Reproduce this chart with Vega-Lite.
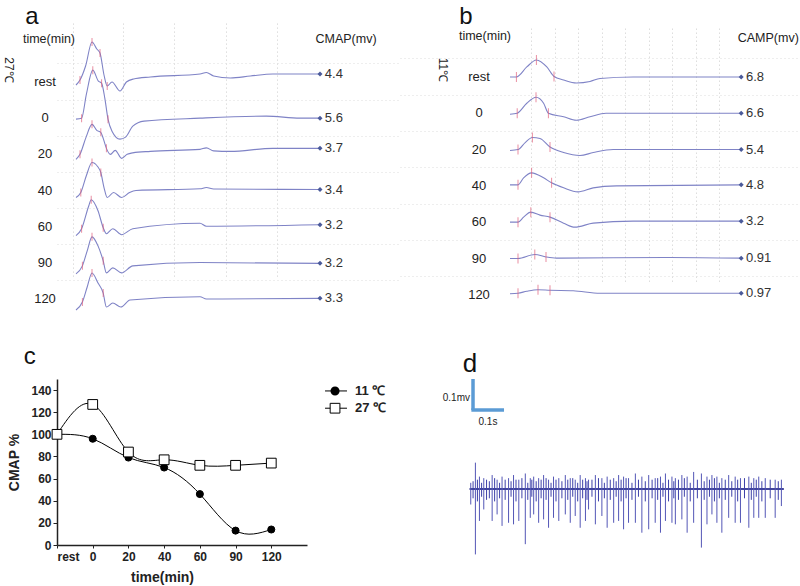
{
  "$schema": "https://vega.github.io/schema/vega-lite/v6.json",
  "padding": {"left": 3, "top": 0, "right": 0, "bottom": 0},
  "config": {
    "view": {"stroke": null},
    "font": "Liberation Sans",
    "text": {"font": "Liberation Sans"},
    "axis": {"labelFont": "Liberation Sans", "titleFont": "Liberation Sans", "labelOverlap": false}
  },
  "datasets": {
    "rows": [
      {"r": "rest"}, {"r": "0"}, {"r": "20"}, {"r": "40"}, {"r": "60"}, {"r": "90"}, {"r": "120"}
    ],
    "endA": [
      {"r": "rest", "val": "4.4", "e": 0.8},
      {"r": "0", "val": "5.6", "e": 0},
      {"r": "20", "val": "3.7", "e": 0.6},
      {"r": "40", "val": "3.4", "e": 0.1},
      {"r": "60", "val": "3.2", "e": 0.2},
      {"r": "90", "val": "3.2", "e": -0.05},
      {"r": "120", "val": "3.3", "e": 0.07}
    ],
    "endB": [
      {"r": "rest", "val": "6.8", "e": 0},
      {"r": "0", "val": "6.6", "e": 0},
      {"r": "20", "val": "5.4", "e": 0},
      {"r": "40", "val": "4.8", "e": 0.1},
      {"r": "60", "val": "3.2", "e": 0.1},
      {"r": "90", "val": "0.91", "e": 0.03},
      {"r": "120", "val": "0.97", "e": 0.15}
    ],
    "traceA": [
      {"r": "rest", "t": 0, "v": -0.3}, {"r": "rest", "t": 0.5, "v": 0.2, "m": 1}, {"r": "rest", "t": 1.2, "v": 1.6}, {"r": "rest", "t": 2.0, "v": 4.0, "m": 1}, {"r": "rest", "t": 2.6, "v": 3.3}, {"r": "rest", "t": 3.0, "v": 2.9, "m": 1}, {"r": "rest", "t": 3.5, "v": 0.7}, {"r": "rest", "t": 3.9, "v": -0.4, "m": 1}, {"r": "rest", "t": 4.5, "v": 0}, {"r": "rest", "t": 5.5, "v": -0.9}, {"r": "rest", "t": 6.3, "v": 0}, {"r": "rest", "t": 7.2, "v": 0.3}, {"r": "rest", "t": 9.3, "v": 0.5}, {"r": "rest", "t": 15.5, "v": 0.8}, {"r": "rest", "t": 16.3, "v": 0.95}, {"r": "rest", "t": 17.2, "v": 0.6}, {"r": "rest", "t": 19.3, "v": 0.4}, {"r": "rest", "t": 21.8, "v": 0.6}, {"r": "rest", "t": 24.6, "v": 0.8}, {"r": "rest", "t": 30.5, "v": 0.8},
      {"r": "0", "t": 0, "v": -0.1}, {"r": "0", "t": 0.7, "v": 0, "m": 1}, {"r": "0", "t": 1.3, "v": 2.4}, {"r": "0", "t": 2.1, "v": 4.8, "m": 1}, {"r": "0", "t": 2.8, "v": 3.7}, {"r": "0", "t": 3.2, "v": 3.5, "m": 1}, {"r": "0", "t": 3.6, "v": 2.0}, {"r": "0", "t": 4.0, "v": -0.1, "m": 1}, {"r": "0", "t": 4.5, "v": -1.3}, {"r": "0", "t": 5.5, "v": -2.1}, {"r": "0", "t": 6.2, "v": -1.9}, {"r": "0", "t": 7.1, "v": -0.8}, {"r": "0", "t": 8.5, "v": -0.3}, {"r": "0", "t": 15.5, "v": 0}, {"r": "0", "t": 23.8, "v": 0.2}, {"r": "0", "t": 28, "v": 0}, {"r": "0", "t": 30.5, "v": 0},
      {"r": "20", "t": 0, "v": -0.5}, {"r": "20", "t": 0.5, "v": 0, "m": 1}, {"r": "20", "t": 1.25, "v": 1.7}, {"r": "20", "t": 2.0, "v": 3.0, "m": 1}, {"r": "20", "t": 2.6, "v": 2.4}, {"r": "20", "t": 3.1, "v": 2.2, "m": 1}, {"r": "20", "t": 3.4, "v": 1.6}, {"r": "20", "t": 3.8, "v": 0.6, "m": 1}, {"r": "20", "t": 4.3, "v": 0}, {"r": "20", "t": 4.9, "v": 0.4}, {"r": "20", "t": 5.7, "v": -0.4}, {"r": "20", "t": 6.4, "v": 0}, {"r": "20", "t": 7.1, "v": 0.15}, {"r": "20", "t": 9.3, "v": 0.3}, {"r": "20", "t": 15.5, "v": 0.5}, {"r": "20", "t": 16.3, "v": 0.65}, {"r": "20", "t": 17.2, "v": 0.35}, {"r": "20", "t": 19.3, "v": 0.3}, {"r": "20", "t": 24.6, "v": 0.6}, {"r": "20", "t": 30.5, "v": 0.6},
      {"r": "40", "t": 0, "v": -0.7}, {"r": "40", "t": 0.6, "v": -0.2, "m": 1}, {"r": "40", "t": 1.3, "v": 1.5}, {"r": "40", "t": 2.0, "v": 2.8, "m": 1}, {"r": "40", "t": 2.7, "v": 2.4}, {"r": "40", "t": 3.1, "v": 1.8, "m": 1}, {"r": "40", "t": 3.5, "v": 0.3}, {"r": "40", "t": 3.9, "v": -0.7}, {"r": "40", "t": 4.7, "v": -0.2}, {"r": "40", "t": 5.7, "v": -0.7}, {"r": "40", "t": 6.7, "v": -0.2}, {"r": "40", "t": 7.5, "v": 0}, {"r": "40", "t": 15.5, "v": 0.17}, {"r": "40", "t": 16.3, "v": 0.3}, {"r": "40", "t": 17.2, "v": 0.15}, {"r": "40", "t": 30.5, "v": 0.1},
      {"r": "60", "t": 0, "v": -0.9}, {"r": "60", "t": 0.7, "v": -0.2, "m": 1}, {"r": "60", "t": 1.6, "v": 2.1}, {"r": "60", "t": 1.9, "v": 2.7, "m": 1}, {"r": "60", "t": 2.75, "v": 1.6}, {"r": "60", "t": 3.4, "v": -0.1, "m": 1}, {"r": "60", "t": 3.8, "v": -0.7}, {"r": "60", "t": 4.6, "v": -0.2}, {"r": "60", "t": 5.7, "v": -0.8}, {"r": "60", "t": 7.1, "v": -0.2}, {"r": "60", "t": 15.5, "v": 0.35}, {"r": "60", "t": 16.3, "v": 0.05}, {"r": "60", "t": 30.5, "v": 0.2},
      {"r": "90", "t": 0, "v": -1.1}, {"r": "90", "t": 0.8, "v": -0.3, "m": 1}, {"r": "90", "t": 1.4, "v": 1.2}, {"r": "90", "t": 2.0, "v": 2.6, "m": 1}, {"r": "90", "t": 2.75, "v": 1.7}, {"r": "90", "t": 3.4, "v": 0.2, "m": 1}, {"r": "90", "t": 3.8, "v": -1.0}, {"r": "90", "t": 4.6, "v": -0.5}, {"r": "90", "t": 5.7, "v": -1.0}, {"r": "90", "t": 7.1, "v": -0.3}, {"r": "90", "t": 15.5, "v": 0.03}, {"r": "90", "t": 30.5, "v": -0.05},
      {"r": "120", "t": 0, "v": -1.1}, {"r": "120", "t": 0.8, "v": -0.3, "m": 1}, {"r": "120", "t": 1.4, "v": 1.2}, {"r": "120", "t": 2.0, "v": 2.6, "m": 1}, {"r": "120", "t": 2.75, "v": 1.6}, {"r": "120", "t": 3.4, "v": 0.6, "m": 1}, {"r": "120", "t": 3.8, "v": -0.8}, {"r": "120", "t": 4.6, "v": -0.4}, {"r": "120", "t": 5.6, "v": -0.8}, {"r": "120", "t": 6.75, "v": -0.1}, {"r": "120", "t": 15.5, "v": 0.23}, {"r": "120", "t": 16.3, "v": 0.0}, {"r": "120", "t": 30.5, "v": 0.07}
    ],
    "traceB": [
      {"r": "rest", "t": 0, "v": 0}, {"r": "rest", "t": 0.8, "v": 0, "m": 1}, {"r": "rest", "t": 2.1, "v": 1.0}, {"r": "rest", "t": 3.3, "v": 1.7, "m": 1}, {"r": "rest", "t": 4.6, "v": 1.0}, {"r": "rest", "t": 5.5, "v": 0.05, "m": 1}, {"r": "rest", "t": 6.7, "v": -0.3}, {"r": "rest", "t": 8.3, "v": -0.6}, {"r": "rest", "t": 10, "v": -0.45}, {"r": "rest", "t": 11.25, "v": -0.15}, {"r": "rest", "t": 15.4, "v": 0}, {"r": "rest", "t": 28.9, "v": 0},
      {"r": "0", "t": 0, "v": -0.1}, {"r": "0", "t": 0.9, "v": 0, "m": 1}, {"r": "0", "t": 2.1, "v": 1.0}, {"r": "0", "t": 3.25, "v": 1.6, "m": 1}, {"r": "0", "t": 4.2, "v": 1.0}, {"r": "0", "t": 4.8, "v": 0, "m": 1}, {"r": "0", "t": 6.7, "v": -0.35}, {"r": "0", "t": 8.3, "v": -0.7}, {"r": "0", "t": 10, "v": -0.35}, {"r": "0", "t": 12, "v": 0}, {"r": "0", "t": 28.9, "v": 0},
      {"r": "20", "t": 0, "v": -0.1}, {"r": "20", "t": 1.0, "v": 0, "m": 1}, {"r": "20", "t": 1.9, "v": 0.7}, {"r": "20", "t": 2.8, "v": 1.2, "m": 1}, {"r": "20", "t": 3.75, "v": 1.1}, {"r": "20", "t": 5.0, "v": 0.25, "m": 1}, {"r": "20", "t": 6.7, "v": -0.3}, {"r": "20", "t": 8.75, "v": -0.6}, {"r": "20", "t": 10.4, "v": -0.3}, {"r": "20", "t": 12.9, "v": 0}, {"r": "20", "t": 28.9, "v": 0},
      {"r": "40", "t": 0, "v": 0.1}, {"r": "40", "t": 1.0, "v": 0.1, "m": 1}, {"r": "40", "t": 1.7, "v": 0.8}, {"r": "40", "t": 2.7, "v": 1.3, "m": 1}, {"r": "40", "t": 4.2, "v": 0.8}, {"r": "40", "t": 5.2, "v": 0.3, "m": 1}, {"r": "40", "t": 6.7, "v": -0.2}, {"r": "40", "t": 8.5, "v": -0.6}, {"r": "40", "t": 10.4, "v": -0.2}, {"r": "40", "t": 13.3, "v": 0}, {"r": "40", "t": 28.9, "v": 0.1},
      {"r": "60", "t": 0, "v": 0}, {"r": "60", "t": 1.0, "v": 0, "m": 1}, {"r": "60", "t": 1.7, "v": 0.5}, {"r": "60", "t": 2.6, "v": 1.0, "m": 1}, {"r": "60", "t": 3.75, "v": 0.7}, {"r": "60", "t": 5.0, "v": 0.5, "m": 1}, {"r": "60", "t": 6.7, "v": -0.1}, {"r": "60", "t": 8.1, "v": -0.5}, {"r": "60", "t": 10.4, "v": -0.1}, {"r": "60", "t": 15.4, "v": 0.1}, {"r": "60", "t": 28.9, "v": 0.1},
      {"r": "90", "t": 0, "v": 0}, {"r": "90", "t": 1.0, "v": 0, "m": 1}, {"r": "90", "t": 3.1, "v": 0.4, "m": 1}, {"r": "90", "t": 4.5, "v": 0.15, "m": 1}, {"r": "90", "t": 5.8, "v": 0.03}, {"r": "90", "t": 20, "v": 0.1}, {"r": "90", "t": 28.9, "v": 0.03},
      {"r": "120", "t": 0, "v": 0.1}, {"r": "120", "t": 1.0, "v": 0.15, "m": 1}, {"r": "120", "t": 2.1, "v": 0.35}, {"r": "120", "t": 3.5, "v": 0.5, "m": 1}, {"r": "120", "t": 5.0, "v": 0.45, "m": 1}, {"r": "120", "t": 7.9, "v": 0.4}, {"r": "120", "t": 11.25, "v": 0.15}, {"r": "120", "t": 28.9, "v": 0.15}
    ],
    "cmap": [
      {"idx": 0, "series": "11 ℃", "pct": 100}, {"idx": 1, "series": "11 ℃", "pct": 96}, {"idx": 2, "series": "11 ℃", "pct": 79}, {"idx": 3, "series": "11 ℃", "pct": 70}, {"idx": 4, "series": "11 ℃", "pct": 46}, {"idx": 5, "series": "11 ℃", "pct": 13}, {"idx": 6, "series": "11 ℃", "pct": 14},
      {"idx": 0, "series": "27 ℃", "pct": 100}, {"idx": 1, "series": "27 ℃", "pct": 127}, {"idx": 2, "series": "27 ℃", "pct": 84}, {"idx": 3, "series": "27 ℃", "pct": 77}, {"idx": 4, "series": "27 ℃", "pct": 72}, {"idx": 5, "series": "27 ℃", "pct": 72}, {"idx": 6, "series": "27 ℃", "pct": 74}
    ],
    "emg": [
      {"t": 0.125, "lo": -0.05, "hi": 0.02}, {"t": 0.140, "lo": -0.211, "hi": 0.085}, {"t": 0.153, "lo": -0.103, "hi": 0.04}, {"t": 0.167, "lo": -0.066, "hi": 0.035}, {"t": 0.194, "lo": -0.103, "hi": 0.045}, {"t": 0.210, "lo": -0.082, "hi": 0.03}, {"t": 0.226, "lo": -0.119, "hi": 0.04}, {"t": 0.247, "lo": -0.109, "hi": 0.035}, {"t": 0.263, "lo": -0.114, "hi": 0.045}, {"t": 0.280, "lo": -0.103, "hi": 0.03}, {"t": 0.301, "lo": -0.178, "hi": 0.05}, {"t": 0.317, "lo": -0.093, "hi": 0.035}, {"t": 0.328, "lo": -0.082, "hi": 0.04}, {"t": 0.344, "lo": -0.109, "hi": 0.035}, {"t": 0.360, "lo": -0.098, "hi": 0.045}, {"t": 0.376, "lo": -0.125, "hi": 0.03}, {"t": 0.392, "lo": -0.093, "hi": 0.04}, {"t": 0.409, "lo": -0.103, "hi": 0.035}, {"t": 0.430, "lo": -0.082, "hi": 0.045}, {"t": 0.446, "lo": -0.109, "hi": 0.035}, {"t": 0.462, "lo": -0.087, "hi": 0.03}, {"t": 0.478, "lo": -0.125, "hi": 0.045}, {"t": 0.495, "lo": -0.103, "hi": 0.035}, {"t": 0.505, "lo": -0.066, "hi": 0.03}, {"t": 0.527, "lo": -0.114, "hi": 0.045}, {"t": 0.548, "lo": -0.087, "hi": 0.035}, {"t": 0.565, "lo": -0.125, "hi": 0.04}, {"t": 0.586, "lo": -0.109, "hi": 0.035}, {"t": 0.602, "lo": -0.103, "hi": 0.045}, {"t": 0.618, "lo": -0.130, "hi": 0.04}, {"t": 0.634, "lo": -0.109, "hi": 0.035}, {"t": 0.656, "lo": -0.109, "hi": 0.05}, {"t": 0.677, "lo": -0.141, "hi": 0.04}, {"t": 0.699, "lo": -0.130, "hi": 0.045}, {"t": 0.720, "lo": -0.109, "hi": 0.035}, {"t": 0.737, "lo": -0.141, "hi": 0.04}, {"t": 0.753, "lo": -0.103, "hi": 0.05}, {"t": 0.774, "lo": -0.109, "hi": 0.04}, {"t": 0.785, "lo": -0.114, "hi": 0.035}, {"t": 0.806, "lo": -0.098, "hi": 0.045}, {"t": 0.823, "lo": -0.141, "hi": 0.04}, {"t": 0.844, "lo": -0.109, "hi": 0.055}, {"t": 0.869, "lo": -0.189, "hi": 0.05}, {"t": 0.887, "lo": -0.114, "hi": 0.04}, {"t": 0.903, "lo": -0.082, "hi": 0.045}, {"t": 0.919, "lo": -0.109, "hi": 0.04}, {"t": 0.935, "lo": -0.141, "hi": 0.035}, {"t": 0.957, "lo": -0.093, "hi": 0.045}, {"t": 0.978, "lo": -0.109, "hi": 0.04}, {"t": 0.995, "lo": -0.109, "hi": 0.035}, {"t": 1.022, "lo": -0.125, "hi": 0.04}, {"t": 1.038, "lo": -0.093, "hi": 0.035}, {"t": 1.054, "lo": -0.093, "hi": 0.04}, {"t": 1.075, "lo": -0.093, "hi": 0.035}, {"t": 1.107, "lo": -0.093, "hi": 0.03}, {"t": 1.127, "lo": -0.055, "hi": 0.03}
    ],
    "emgNoise": [
      {"t": 0.1325, "lo": -0.03, "hi": 0.025}, {"t": 0.1465, "lo": -0.04, "hi": 0.03}, {"t": 0.160, "lo": -0.025, "hi": 0.02}, {"t": 0.176, "lo": -0.035, "hi": 0.03}, {"t": 0.185, "lo": -0.03, "hi": 0.025}, {"t": 0.202, "lo": -0.04, "hi": 0.035}, {"t": 0.218, "lo": -0.03, "hi": 0.02}, {"t": 0.236, "lo": -0.035, "hi": 0.03}, {"t": 0.255, "lo": -0.025, "hi": 0.025}, {"t": 0.271, "lo": -0.04, "hi": 0.03}, {"t": 0.290, "lo": -0.03, "hi": 0.035}, {"t": 0.309, "lo": -0.035, "hi": 0.02}, {"t": 0.322, "lo": -0.025, "hi": 0.03}, {"t": 0.336, "lo": -0.04, "hi": 0.025}, {"t": 0.352, "lo": -0.03, "hi": 0.03}, {"t": 0.368, "lo": -0.035, "hi": 0.035}, {"t": 0.384, "lo": -0.025, "hi": 0.02}, {"t": 0.400, "lo": -0.04, "hi": 0.03}, {"t": 0.419, "lo": -0.03, "hi": 0.025}, {"t": 0.438, "lo": -0.035, "hi": 0.03}, {"t": 0.454, "lo": -0.025, "hi": 0.035}, {"t": 0.470, "lo": -0.04, "hi": 0.02}, {"t": 0.486, "lo": -0.03, "hi": 0.03}, {"t": 0.500, "lo": -0.035, "hi": 0.025}, {"t": 0.516, "lo": -0.025, "hi": 0.03}, {"t": 0.537, "lo": -0.04, "hi": 0.035}, {"t": 0.556, "lo": -0.03, "hi": 0.02}, {"t": 0.575, "lo": -0.035, "hi": 0.03}, {"t": 0.594, "lo": -0.025, "hi": 0.025}, {"t": 0.610, "lo": -0.04, "hi": 0.03}, {"t": 0.626, "lo": -0.03, "hi": 0.035}, {"t": 0.645, "lo": -0.035, "hi": 0.02}, {"t": 0.666, "lo": -0.025, "hi": 0.03}, {"t": 0.688, "lo": -0.04, "hi": 0.025}, {"t": 0.710, "lo": -0.03, "hi": 0.03}, {"t": 0.728, "lo": -0.035, "hi": 0.035}, {"t": 0.745, "lo": -0.025, "hi": 0.02}, {"t": 0.763, "lo": -0.04, "hi": 0.03}, {"t": 0.780, "lo": -0.03, "hi": 0.025}, {"t": 0.795, "lo": -0.035, "hi": 0.03}, {"t": 0.814, "lo": -0.025, "hi": 0.035}, {"t": 0.833, "lo": -0.04, "hi": 0.02}, {"t": 0.856, "lo": -0.03, "hi": 0.03}, {"t": 0.878, "lo": -0.035, "hi": 0.025}, {"t": 0.895, "lo": -0.025, "hi": 0.03}, {"t": 0.911, "lo": -0.04, "hi": 0.035}, {"t": 0.927, "lo": -0.03, "hi": 0.02}, {"t": 0.946, "lo": -0.035, "hi": 0.03}, {"t": 0.967, "lo": -0.025, "hi": 0.025}, {"t": 0.986, "lo": -0.04, "hi": 0.03}, {"t": 1.008, "lo": -0.03, "hi": 0.035}, {"t": 1.030, "lo": -0.035, "hi": 0.02}, {"t": 1.046, "lo": -0.025, "hi": 0.03}, {"t": 1.064, "lo": -0.04, "hi": 0.025}, {"t": 1.091, "lo": -0.03, "hi": 0.03}, {"t": 1.117, "lo": -0.035, "hi": 0.025}
    ]
  },
  "concat": [
    {
      "spacing": 0,
      "hconcat": [
        {
          "width": 343,
          "height": 340,
          "layer": [
            {
              "data": {"name": "traceA"},
              "mark": {"type": "line", "stroke": "#7f83c6", "strokeWidth": 1.1, "interpolate": "monotone"},
              "encoding": {
                "x": {"field": "t", "type": "quantitative", "scale": {"domain": [-2.375, 40.5], "nice": false, "zero": false},
                  "axis": {"values": [-0.4, 2.8, 5.9, 9.2, 12.2, 15.5, 18.8, 21.8, 25.1, 28.0], "labels": false, "ticks": false, "domain": false, "title": null, "grid": true, "gridDash": [1, 3], "gridColor": "#cccccc"}},
                "y": {"field": "r", "type": "nominal", "scale": {"domain": ["rest", "0", "20", "40", "60", "90", "120"], "range": [63.9, 317.1], "paddingInner": 0, "paddingOuter": 0},
                  "axis": {"labels": false, "ticks": false, "domain": false, "title": null, "grid": true, "bandPosition": 0, "gridDash": [1, 3], "gridColor": "#dddddd"}},
                "yOffset": {"field": "v", "type": "quantitative", "scale": {"domain": [-3, 5], "range": [48.1, -31.9]}},
                "detail": {"field": "r", "type": "nominal"},
                "order": {"field": "t", "type": "quantitative"}
              }
            },
            {
              "data": {"name": "traceA"},
              "transform": [{"filter": "datum.m == 1"}],
              "mark": {"type": "tick", "color": "#e0607a", "size": 8, "thickness": 1},
              "encoding": {
                "x": {"field": "t", "type": "quantitative"},
                "y": {"field": "r", "type": "nominal"},
                "yOffset": {"field": "v", "type": "quantitative"}
              }
            },
            {
              "data": {"name": "endA"},
              "mark": {"type": "point", "shape": "diamond", "filled": true, "color": "#4a5a9a", "size": 25, "opacity": 1},
              "encoding": {
                "x": {"datum": 30.5, "type": "quantitative"},
                "y": {"field": "r", "type": "nominal"},
                "yOffset": {"field": "e", "type": "quantitative"}
              }
            },
            {
              "data": {"name": "endA"},
              "mark": {"type": "text", "align": "left", "baseline": "middle", "fontSize": 13, "color": "#333333"},
              "encoding": {
                "x": {"datum": 31.1, "type": "quantitative"},
                "y": {"field": "r", "type": "nominal"},
                "yOffset": {"field": "e", "type": "quantitative"},
                "text": {"field": "val"}
              }
            },
            {
              "data": {"name": "rows"},
              "mark": {"type": "text", "align": "center", "baseline": "middle", "fontSize": 13, "color": "#222222"},
              "encoding": {
                "x": {"datum": -3.875, "type": "quantitative"},
                "y": {"field": "r", "type": "nominal"},
                "text": {"field": "r"}
              }
            },
            {
              "data": {"values": [{}]},
              "mark": {"type": "text", "text": "a", "fontSize": 24, "align": "center", "baseline": "middle", "color": "#111111"},
              "encoding": {"x": {"datum": -5.5, "type": "quantitative"}, "y": {"datum": "rest", "type": "nominal"}, "yOffset": {"datum": 6.5, "type": "quantitative"}}
            },
            {
              "data": {"values": [{}]},
              "mark": {"type": "text", "text": "time(min)", "fontSize": 12.5, "align": "center", "baseline": "middle", "color": "#222222"},
              "encoding": {"x": {"datum": -3.375, "type": "quantitative"}, "y": {"datum": "rest", "type": "nominal"}, "yOffset": {"datum": 4.3, "type": "quantitative"}}
            },
            {
              "data": {"values": [{}]},
              "mark": {"type": "text", "text": "CMAP(mv)", "fontSize": 12.5, "align": "center", "baseline": "middle", "color": "#222222"},
              "encoding": {"x": {"datum": 33.75, "type": "quantitative"}, "y": {"datum": "rest", "type": "nominal"}, "yOffset": {"datum": 4.3, "type": "quantitative"}}
            },
            {
              "data": {"values": [{}]},
              "mark": {"type": "text", "text": "27℃", "fontSize": 12, "angle": 90, "align": "center", "baseline": "middle", "color": "#222222"},
              "encoding": {"x": {"datum": -8.375, "type": "quantitative"}, "y": {"datum": "rest", "type": "nominal"}, "yOffset": {"datum": 1.2, "type": "quantitative"}}
            }
          ]
        },
        {
          "width": 400,
          "height": 340,
          "layer": [
            {
              "data": {"name": "traceB"},
              "mark": {"type": "line", "stroke": "#7f83c6", "strokeWidth": 1.1, "interpolate": "monotone"},
              "encoding": {
                "x": {"field": "t", "type": "quantitative", "scale": {"domain": [-13.75, 36.25], "nice": false, "zero": false},
                  "axis": {"values": [2.6, 5.6, 8.5, 11.5, 14.4, 17.4, 20.25, 23.25, 26.1], "labels": false, "ticks": false, "domain": false, "title": null, "grid": true, "gridDash": [1, 3], "gridColor": "#cccccc"}},
                "y": {"field": "r", "type": "nominal", "scale": {"domain": ["rest", "0", "20", "40", "60", "90", "120"], "range": [58.85, 312.95], "paddingInner": 0, "paddingOuter": 0},
                  "axis": {"labels": false, "ticks": false, "domain": false, "title": null, "grid": true, "bandPosition": 0, "gridDash": [1, 3], "gridColor": "#dddddd"}},
                "yOffset": {"field": "v", "type": "quantitative", "scale": {"domain": [-3, 5], "range": [48.15, -31.85]}},
                "detail": {"field": "r", "type": "nominal"},
                "order": {"field": "t", "type": "quantitative"}
              }
            },
            {
              "data": {"name": "traceB"},
              "transform": [{"filter": "datum.m == 1"}],
              "mark": {"type": "tick", "color": "#e0607a", "size": 10, "thickness": 1},
              "encoding": {
                "x": {"field": "t", "type": "quantitative"},
                "y": {"field": "r", "type": "nominal"},
                "yOffset": {"field": "v", "type": "quantitative"}
              }
            },
            {
              "data": {"name": "endB"},
              "mark": {"type": "point", "shape": "diamond", "filled": true, "color": "#4a5a9a", "size": 25, "opacity": 1},
              "encoding": {
                "x": {"datum": 28.9, "type": "quantitative"},
                "y": {"field": "r", "type": "nominal"},
                "yOffset": {"field": "e", "type": "quantitative"}
              }
            },
            {
              "data": {"name": "endB"},
              "mark": {"type": "text", "align": "left", "baseline": "middle", "fontSize": 13, "color": "#333333"},
              "encoding": {
                "x": {"datum": 29.5, "type": "quantitative"},
                "y": {"field": "r", "type": "nominal"},
                "yOffset": {"field": "e", "type": "quantitative"},
                "text": {"field": "val"}
              }
            },
            {
              "data": {"name": "rows"},
              "mark": {"type": "text", "align": "center", "baseline": "middle", "fontSize": 13, "color": "#222222"},
              "encoding": {
                "x": {"datum": -3.875, "type": "quantitative"},
                "y": {"field": "r", "type": "nominal"},
                "text": {"field": "r"}
              }
            },
            {
              "data": {"values": [{}]},
              "mark": {"type": "text", "text": "b", "fontSize": 24, "align": "center", "baseline": "middle", "color": "#111111"},
              "encoding": {"x": {"datum": -5.5, "type": "quantitative"}, "y": {"datum": "rest", "type": "nominal"}, "yOffset": {"datum": 6.0, "type": "quantitative"}}
            },
            {
              "data": {"values": [{}]},
              "mark": {"type": "text", "text": "time(min)", "fontSize": 12.5, "align": "center", "baseline": "middle", "color": "#222222"},
              "encoding": {"x": {"datum": -3.125, "type": "quantitative"}, "y": {"datum": "rest", "type": "nominal"}, "yOffset": {"datum": 4.1, "type": "quantitative"}}
            },
            {
              "data": {"values": [{}]},
              "mark": {"type": "text", "text": "CAMP(mv)", "fontSize": 12.5, "align": "right", "baseline": "middle", "color": "#222222"},
              "encoding": {"x": {"datum": 36.1, "type": "quantitative"}, "y": {"datum": "rest", "type": "nominal"}, "yOffset": {"datum": 3.9, "type": "quantitative"}}
            },
            {
              "data": {"values": [{}]},
              "mark": {"type": "text", "text": "11℃", "fontSize": 12, "angle": 90, "align": "center", "baseline": "middle", "color": "#222222"},
              "encoding": {"x": {"datum": -8.375, "type": "quantitative"}, "y": {"datum": "rest", "type": "nominal"}, "yOffset": {"datum": 0.7, "type": "quantitative"}}
            }
          ]
        }
      ]
    },
    {
      "spacing": 45,
      "hconcat": [
        {
          "width": 250,
          "height": 166,
          "data": {"name": "cmap"},
          "layer": [
            {
              "mark": {"type": "line", "interpolate": "natural", "color": "black", "strokeWidth": 1},
              "encoding": {
                "x": {"field": "idx", "type": "quantitative", "scale": {"domain": [0, 7], "nice": false, "zero": false},
                  "axis": {"values": [0, 1, 2, 3, 4, 5, 6], "labelExpr": "['rest','0','20','40','60','90','120'][datum.value]", "labelOverlap": false, "title": "time(min)", "titleX": 105, "titleFontSize": 14, "titleFontWeight": "bold", "titleColor": "#222222", "titlePadding": 8, "labelFontSize": 12, "labelFontWeight": "bold", "labelColor": "#222222", "labelPadding": 3, "tickSize": 3, "tickColor": "#222222", "domainColor": "#222222", "domainWidth": 1.5, "grid": false}},
                "y": {"field": "pct", "type": "quantitative", "scale": {"domain": [0, 150], "nice": false},
                  "axis": {"tickCount": 8, "labelOverlap": false, "labelSeparation": 0, "labelBound": false, "title": "CMAP %", "titleFontSize": 14, "titleFontWeight": "bold", "titleColor": "#222222", "titlePadding": 9, "labelFontSize": 12, "labelFontWeight": "bold", "labelColor": "#222222", "labelPadding": 2, "tickSize": 4, "tickColor": "#222222", "domainColor": "#222222", "domainWidth": 1.5, "grid": false}},
                "detail": {"field": "series", "type": "nominal"},
                "order": {"field": "idx", "type": "quantitative"}
              }
            },
            {
              "mark": {"type": "point", "filled": true, "stroke": "black", "strokeWidth": 1, "opacity": 1},
              "encoding": {
                "x": {"field": "idx", "type": "quantitative"},
                "y": {"field": "pct", "type": "quantitative"},
                "shape": {"field": "series", "type": "nominal", "scale": {"domain": ["11 ℃", "27 ℃"], "range": ["circle", "square"]}, "legend": null},
                "fill": {"field": "series", "type": "nominal", "scale": {"domain": ["11 ℃", "27 ℃"], "range": ["black", "white"]}, "legend": null},
                "size": {"field": "series", "type": "nominal", "scale": {"domain": ["11 ℃", "27 ℃"], "range": [50, 95]}, "legend": null}
              }
            },
            {
              "data": {"values": [{}]},
              "mark": {"type": "rule", "color": "black", "strokeWidth": 1},
              "encoding": {"x": {"datum": 7.505, "type": "quantitative"}, "x2": {"datum": 8.12}, "y": {"datum": 139.2, "type": "quantitative"}}
            },
            {
              "data": {"values": [{}]},
              "mark": {"type": "rule", "color": "black", "strokeWidth": 1},
              "encoding": {"x": {"datum": 7.505, "type": "quantitative"}, "x2": {"datum": 8.12}, "y": {"datum": 123.6, "type": "quantitative"}}
            },
            {
              "data": {"values": [{}]},
              "mark": {"type": "point", "shape": "circle", "filled": true, "fill": "black", "stroke": "black", "size": 50, "opacity": 1},
              "encoding": {"x": {"datum": 7.785, "type": "quantitative"}, "y": {"datum": 139.2, "type": "quantitative"}}
            },
            {
              "data": {"values": [{}]},
              "mark": {"type": "point", "shape": "square", "filled": true, "fill": "white", "stroke": "black", "strokeWidth": 1, "size": 95, "opacity": 1},
              "encoding": {"x": {"datum": 7.785, "type": "quantitative"}, "y": {"datum": 123.6, "type": "quantitative"}}
            },
            {
              "data": {"values": [{}]},
              "mark": {"type": "text", "text": "11 ℃", "fontSize": 13, "fontWeight": "bold", "align": "left", "baseline": "middle", "color": "#222222"},
              "encoding": {"x": {"datum": 8.345, "type": "quantitative"}, "y": {"datum": 139.2, "type": "quantitative"}}
            },
            {
              "data": {"values": [{}]},
              "mark": {"type": "text", "text": "27 ℃", "fontSize": 13, "fontWeight": "bold", "align": "left", "baseline": "middle", "color": "#222222"},
              "encoding": {"x": {"datum": 8.345, "type": "quantitative"}, "y": {"datum": 123.6, "type": "quantitative"}}
            },
            {
              "data": {"values": [{}]},
              "mark": {"type": "text", "text": "c", "fontSize": 24, "align": "center", "baseline": "middle", "color": "#111111"},
              "encoding": {"x": {"datum": -0.76, "type": "quantitative"}, "y": {"datum": 169.8, "type": "quantitative"}}
            }
          ]
        },
        {
          "width": 365,
          "height": 208,
          "layer": [
            {
              "data": {"values": [{}]},
              "mark": {"type": "rule", "color": "#2f3290", "strokeWidth": 2, "opacity": 0.9},
              "encoding": {
                "x": {"datum": 0.121, "type": "quantitative", "scale": {"domain": [0, 1.1774], "nice": false, "zero": false}, "axis": null},
                "x2": {"datum": 1.135},
                "y": {"datum": 0, "type": "quantitative", "scale": {"domain": [-0.3161, 0.3548], "nice": false, "zero": false}, "axis": null}
              }
            },
            {
              "data": {"name": "emgNoise"},
              "mark": {"type": "rule", "color": "#3d40a8", "strokeWidth": 1},
              "encoding": {
                "x": {"field": "t", "type": "quantitative"},
                "y": {"field": "lo", "type": "quantitative"},
                "y2": {"field": "hi"}
              }
            },
            {
              "data": {"name": "emg"},
              "mark": {"type": "rule", "color": "#5356b6", "strokeWidth": 1},
              "encoding": {
                "x": {"field": "t", "type": "quantitative"},
                "y": {"field": "lo", "type": "quantitative"},
                "y2": {"field": "hi"}
              }
            },
            {
              "data": {"values": [{}]},
              "mark": {"type": "rule", "color": "#5b9bd5", "strokeWidth": 3.5},
              "encoding": {"x": {"datum": 0.1323, "type": "quantitative"}, "y": {"datum": 0.2548, "type": "quantitative"}, "y2": {"datum": 0.3548}}
            },
            {
              "data": {"values": [{}]},
              "mark": {"type": "rule", "color": "#5b9bd5", "strokeWidth": 3.5},
              "encoding": {"x": {"datum": 0.127, "type": "quantitative"}, "x2": {"datum": 0.2323}, "y": {"datum": 0.2548, "type": "quantitative"}}
            },
            {
              "data": {"values": [{}]},
              "mark": {"type": "text", "text": "0.1mv", "fontSize": 10, "align": "right", "baseline": "middle", "color": "#222222"},
              "encoding": {"x": {"datum": 0.1226, "type": "quantitative"}, "y": {"datum": 0.2935, "type": "quantitative"}}
            },
            {
              "data": {"values": [{}]},
              "mark": {"type": "text", "text": "0.1s", "fontSize": 10, "align": "center", "baseline": "middle", "color": "#222222"},
              "encoding": {"x": {"datum": 0.1806, "type": "quantitative"}, "y": {"datum": 0.216, "type": "quantitative"}}
            },
            {
              "data": {"values": [{}]},
              "mark": {"type": "text", "text": "d", "fontSize": 26, "align": "center", "baseline": "middle", "color": "#111111"},
              "encoding": {"x": {"datum": 0.1226, "type": "quantitative"}, "y": {"datum": 0.403, "type": "quantitative"}}
            }
          ]
        }
      ]
    }
  ],
  "columns": 1,
  "align": "none",
  "spacing": 5
}
